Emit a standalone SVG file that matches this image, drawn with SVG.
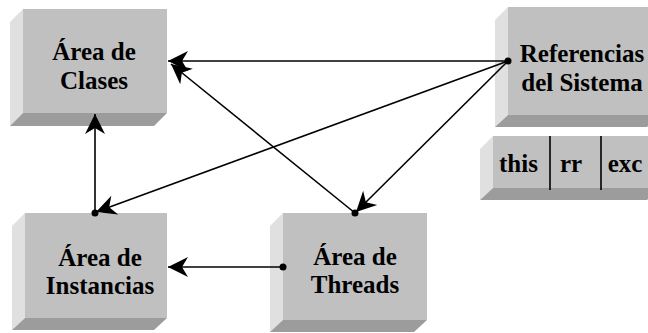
<svg xmlns="http://www.w3.org/2000/svg" width="648" height="333" viewBox="0 0 648 333">
<style>
.face{fill:#c0c0c0}
.side{fill:#e0e0e0}
.bottom{fill:#9c9c9c}
.lbl{font-family:"Liberation Serif","Times New Roman",serif;font-weight:bold;font-size:25px;fill:#000;text-anchor:middle}
.con{stroke:#000;stroke-width:1.6;fill:none}
.dot{fill:#000}
.div{stroke:#000;stroke-width:1.6}
</style>
<defs>
<marker id="arr" markerUnits="userSpaceOnUse" markerWidth="24" markerHeight="24" viewBox="-22 -12 24 24" refX="0" refY="0" orient="auto">
<path d="M0,0 L-20,-10 L-14,0 L-20,10 Z" fill="#000"/>
</marker>
</defs>
<rect width="648" height="333" fill="#fff"/>
<g id="clases">
<polygon class="side" points="10,22 23,9 23,113 10,126"/>
<polygon class="bottom" points="23,113 167,113 154,126 10,126"/>
<rect class="face" x="23" y="9" width="144" height="104"/>
<text class="lbl" x="94" y="60">Área de</text>
<text class="lbl" x="94" y="89">Clases</text>
</g>
<g id="referencias">
<polygon class="side" points="495,20 508,7 508,115 495,127"/>
<polygon class="bottom" points="508,115 660,115 647,127 495,127"/>
<rect class="face" x="508" y="7" width="152" height="108"/>
<text class="lbl" x="582" y="62">Referencias</text>
<text class="lbl" x="582" y="91">del Sistema</text>
</g>
<g id="registros">
<polygon class="side" points="480,149 493,136 493,188 480,200"/>
<polygon class="bottom" points="493,188 660,188 647,200 480,200"/>
<rect class="face" x="493" y="136" width="167" height="52"/>
<line class="div" x1="550" y1="136" x2="550" y2="190"/>
<line class="div" x1="601" y1="136" x2="601" y2="190"/>
<text class="lbl" x="518.5" y="172">this</text>
<text class="lbl" x="571" y="172">rr</text>
<text class="lbl" x="625" y="172">exc</text>
</g>
<g id="instancias">
<polygon class="side" points="12,226 25,213 25,318 12,330"/>
<polygon class="bottom" points="25,318 167,318 154,330 12,330"/>
<rect class="face" x="25" y="213" width="142" height="105"/>
<text class="lbl" x="100" y="266">Área de</text>
<text class="lbl" x="100" y="294">Instancias</text>
</g>
<g id="threads">
<polygon class="side" points="270,226 283,213 283,320 270,332"/>
<polygon class="bottom" points="283,320 427,320 414,332 270,332"/>
<rect class="face" x="283" y="213" width="144" height="107"/>
<text class="lbl" x="355" y="265">Área de</text>
<text class="lbl" x="355" y="293">Threads</text>
</g>
<g id="connectors">
<line class="con" x1="508" y1="61" x2="168" y2="61" marker-end="url(#arr)"/>
<line class="con" x1="355" y1="213" x2="171" y2="64" marker-end="url(#arr)"/>
<line class="con" x1="508" y1="61" x2="96" y2="212" marker-end="url(#arr)"/>
<line class="con" x1="508" y1="61" x2="356" y2="212" marker-end="url(#arr)"/>
<line class="con" x1="283" y1="267" x2="168" y2="267" marker-end="url(#arr)"/>
<line class="con" x1="95" y1="213" x2="95" y2="114" marker-end="url(#arr)"/>
<circle class="dot" cx="508" cy="61" r="3.5"/>
<circle class="dot" cx="355" cy="213" r="3.5"/>
<circle class="dot" cx="283" cy="267" r="3.5"/>
<circle class="dot" cx="95" cy="213" r="3.5"/>
</g>
</svg>
